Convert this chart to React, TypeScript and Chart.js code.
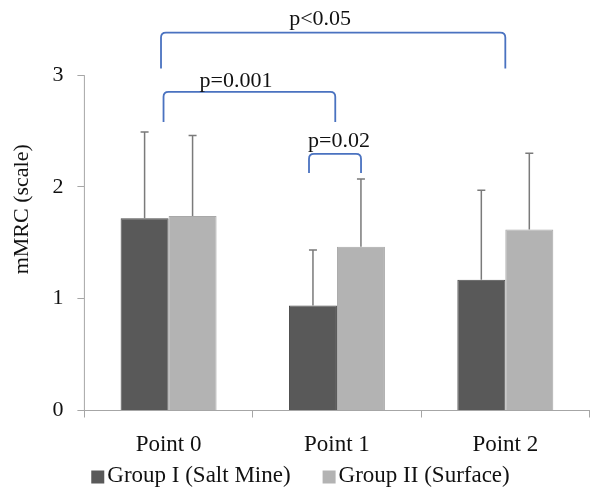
import React, { useEffect, useRef } from 'react';
import { Chart, registerables } from 'chart.js';

Chart.register(...registerables);

const categories = ['Point 0', 'Point 1', 'Point 2'];
const seriesNames = ['Group I (Salt Mine)', 'Group II (Surface)'];
const groupI = [1.72, 0.94, 1.17];
const groupII = [1.74, 1.465, 1.62];
const groupIErr = [0.77, 0.495, 0.8];
const groupIIErr = [0.72, 0.605, 0.68];
const yTicks = [0, 1, 2, 3];

const bracketLabels = ['p<0.05', 'p=0.001', 'p=0.02'];
const bracketFrom = [-0.045, -0.03, 0.834];
const bracketTo = [2.0, 0.99, 1.143];
const bracketTop = [3.38, 2.85, 2.295];
const bracketEnd = [3.06, 2.58, 2.125];
const bracketTextX = [0.9, 0.4, 1.012];
const bracketTextY = [3.45, 2.89, 2.357];

const FONT = "'Liberation Serif', 'Times New Roman', serif";
const DARK = '#595959';
const LIGHT = '#b3b3b3';
const AXIS = '#a6a6a6';
const BLUE = '#4a72c0';
const errs = [groupIErr, groupIIErr];

const axisLine = {
  id: 'axisLine',
  beforeDatasetsDraw(chart: any) {
    const { ctx, chartArea } = chart;
    const y = chart.scales.y;
    ctx.save();
    ctx.strokeStyle = AXIS;
    ctx.lineWidth = 1;
    ctx.beginPath();
    ctx.moveTo(chartArea.left, y.getPixelForValue(yTicks[0]));
    ctx.lineTo(chartArea.left, y.getPixelForValue(yTicks[yTicks.length - 1]));
    ctx.stroke();
    ctx.restore();
  },
};

const errorBars = {
  id: 'errorBars',
  afterDatasetsDraw(chart: any) {
    const { ctx } = chart;
    const y = chart.scales.y;
    chart.data.datasets.forEach((ds: any, i: number) => {
      const meta = chart.getDatasetMeta(i);
      meta.data.forEach((bar: any, j: number) => {
        const top = y.getPixelForValue(ds.data[j] + errs[i][j]);
        ctx.save();
        ctx.strokeStyle = '#7a7a7a';
        ctx.lineWidth = 1.5;
        ctx.beginPath();
        ctx.moveTo(bar.x, bar.y);
        ctx.lineTo(bar.x, top);
        ctx.moveTo(bar.x - 4, top);
        ctx.lineTo(bar.x + 4, top);
        ctx.stroke();
        ctx.restore();
      });
    });
  },
};

const brackets = {
  id: 'brackets',
  afterDraw(chart: any) {
    const { ctx } = chart;
    const x = chart.scales.x;
    const y = chart.scales.y;
    bracketLabels.forEach((label, i) => {
      const x1 = x.getPixelForValue(bracketFrom[i]);
      const x2 = x.getPixelForValue(bracketTo[i]);
      const yt = y.getPixelForValue(bracketTop[i]);
      const ye = y.getPixelForValue(bracketEnd[i]);
      const r = 5;
      ctx.save();
      ctx.strokeStyle = BLUE;
      ctx.lineWidth = 1.8;
      ctx.beginPath();
      ctx.moveTo(x1, ye);
      ctx.lineTo(x1, yt + r);
      ctx.quadraticCurveTo(x1, yt, x1 + r, yt);
      ctx.lineTo(x2 - r, yt);
      ctx.quadraticCurveTo(x2, yt, x2, yt + r);
      ctx.lineTo(x2, ye);
      ctx.stroke();
      ctx.fillStyle = '#111';
      ctx.font = `22px ${FONT}`;
      ctx.textAlign = 'center';
      ctx.textBaseline = 'alphabetic';
      ctx.fillText(label, x.getPixelForValue(bracketTextX[i]), y.getPixelForValue(bracketTextY[i]));
      ctx.restore();
    });
  },
};

const customLegend = {
  id: 'customLegend',
  afterDraw(chart: any) {
    const { ctx, width, height } = chart;
    ctx.save();
    ctx.font = `23px ${FONT}`;
    const box = 13;
    const gapText = 3;
    const gapItem = 32;
    const widths = chart.data.datasets.map((ds: any) => ctx.measureText(ds.label).width);
    const total = widths.reduce((a: number, w: number) => a + w + box + gapText, 0) + gapItem * (widths.length - 1);
    let cx = width / 2 - total / 2 + 5;
    const baseline = height - 10;
    chart.data.datasets.forEach((ds: any, i: number) => {
      ctx.fillStyle = ds.backgroundColor;
      ctx.fillRect(cx, baseline - 11.5, box, box);
      ctx.fillStyle = '#111';
      ctx.textAlign = 'left';
      ctx.textBaseline = 'alphabetic';
      ctx.fillText(ds.label, cx + box + gapText, baseline);
      cx += box + gapText + widths[i] + gapItem;
    });
    ctx.restore();
  },
};

export default function App() {
  const ref = useRef<HTMLCanvasElement>(null);

  useEffect(() => {
    if (!ref.current) return;
    const chart = new Chart(ref.current, {
      type: 'bar',
      data: {
        labels: categories,
        datasets: [
          {
            label: seriesNames[0],
            data: groupI,
            backgroundColor: DARK,
            borderColor: '#4b4b4b',
            borderWidth: 1,
            categoryPercentage: 0.57,
            barPercentage: 1.0,
          },
          {
            label: seriesNames[1],
            data: groupII,
            backgroundColor: LIGHT,
            borderColor: '#a8a8a8',
            borderWidth: 1,
            categoryPercentage: 0.57,
            barPercentage: 1.0,
          },
        ],
      },
      options: {
        animation: false,
        responsive: true,
        maintainAspectRatio: false,
        layout: { padding: { top: 8, bottom: 19.9, left: 0, right: 1.5 } },
        plugins: {
          legend: { display: false },
          tooltip: { enabled: false },
        },
        scales: {
          x: {
            grid: {
              display: true,
              drawOnChartArea: false,
              drawTicks: true,
              tickLength: 7,
              color: AXIS,
              offset: true,
            },
            border: { display: true, color: AXIS },
            ticks: { font: { family: FONT, size: 23 }, color: '#111', padding: 13.5 },
            afterFit: (scale: any) => {
              scale.paddingLeft = 0;
              scale.paddingRight = 0;
            },
          },
          y: {
            min: 0,
            max: 3.6,
            grid: {
              display: true,
              drawOnChartArea: false,
              drawTicks: true,
              tickLength: 7,
              color: AXIS,
            },
            border: { display: false },
            afterBuildTicks: (scale: any) => {
              scale.ticks = yTicks.map((v) => ({ value: v }));
            },
            afterFit: (scale: any) => {
              scale.paddingTop = 0;
              scale.paddingBottom = 0;
            },
            ticks: {
              stepSize: 1,
              includeBounds: false,
              font: { family: FONT, size: 22 },
              color: '#111',
              padding: 14,
            },
            title: {
              display: true,
              text: 'mMRC (scale)',
              font: { family: FONT, size: 22 },
              color: '#111',
              padding: { top: 9, bottom: 3 },
            },
          },
        },
      },
      plugins: [axisLine, errorBars, brackets, customLegend],
    });
    return () => chart.destroy();
  }, []);

  return (
    <div style={{ position: 'fixed', left: 0, top: 0, width: 591, height: 492, background: '#fff' }}>
      <canvas ref={ref} />
    </div>
  );
}
